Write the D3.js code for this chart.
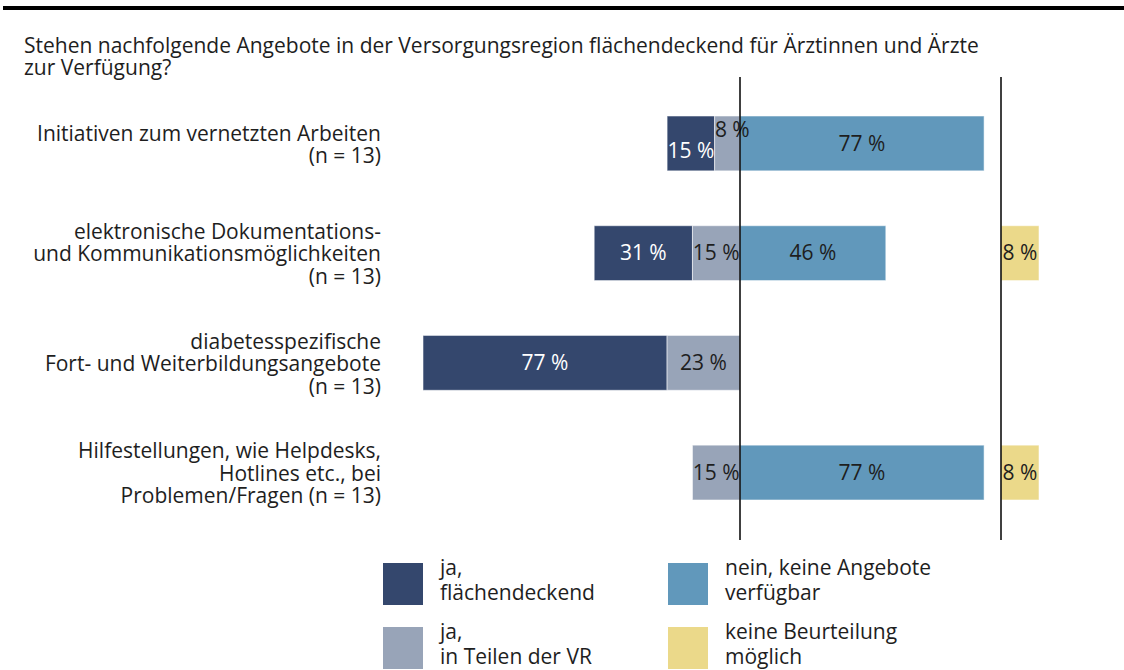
<!DOCTYPE html>
<html><head><meta charset="utf-8">
<script src="https://cdn.jsdelivr.net/npm/d3@7"></script>
<style>
html,body{margin:0;padding:0;background:#fff;}
svg text{font-family:"Open Sans","Noto Sans",sans-serif;fill:#1e1e1e;}
</style></head>
<body>
<svg id="c" width="1124" height="670"></svg>
<script>
const categories = [
  ["Initiativen zum vernetzten Arbeiten", "(n = 13)"],
  ["elektronische Dokumentations-", "und Kommunikationsmöglichkeiten", "(n = 13)"],
  ["diabetesspezifische", "Fort- und Weiterbildungsangebote", "(n = 13)"],
  ["Hilfestellungen, wie Helpdesks,", "Hotlines etc., bei", "Problemen/Fragen (n = 13)"]
];
const jaFlaechendeckend = [15, 31, 77, 0];
const jaTeilweise = [8, 15, 23, 15];
const neinKeine = [77, 46, 0, 77];
const keineBeurteilung = [0, 8, 0, 8];
const legendLabels = [
  ["ja,", "flächendeckend"],
  ["ja,", "in Teilen der VR"],
  ["nein, keine Angebote", "verfügbar"],
  ["keine Beurteilung", "möglich"]
];
const title = ["Stehen nachfolgende Angebote in der Versorgungsregion flächendeckend für Ärztinnen und Ärzte", "zur Verfügung?"];

const colors = {fl: "#34476d", teil: "#98a4b8", nein: "#6198bb", kb: "#ebd98a"};

const svg = d3.select("#c");
const fs = 21;

// top rule
svg.append("rect").attr("x", 3).attr("y", 6).attr("width", 1121).attr("height", 4).attr("fill", "#000");

// title
svg.append("text").attr("font-size", fs)
  .selectAll("tspan").data(title).join("tspan")
  .attr("x", 24).attr("y", (d, i) => 53 + i * 22).text(d => d);

const x = d3.scaleLinear().domain([-100, 100]).range([740 - 317, 740 + 317]);
const kbX0 = 1001;
const kbScale = d3.scaleLinear().domain([0, 100]).range([kbX0, kbX0 + 475]);

const idx = d3.range(categories.length);
const y = d3.scaleBand().domain(idx).range([116, 500]).paddingInner(0.5).paddingOuter(0);
const bw = y.bandwidth();

// build segments
const segs = [];
idx.forEach(i => {
  const f = jaFlaechendeckend[i], t = jaTeilweise[i], n = neinKeine[i], k = keineBeurteilung[i];
  const smallT = t > 0 && t < 10;
  if (f > 0) segs.push({i, x0: x(-(f + t)), x1: x(-t), v: f, c: colors.fl, tc: "#fff", dy: smallT ? 7 : 0});
  if (t > 0) segs.push({i, x0: x(-t), x1: x(0), v: t, c: colors.teil, tc: "#1e1e1e", dy: smallT ? -14 : 0, dx: smallT ? 5 : 0});
  if (n > 0) segs.push({i, x0: x(0), x1: x(n), v: n, c: colors.nein, tc: "#1e1e1e", dy: 0});
  if (k > 0) segs.push({i, x0: kbScale(0), x1: kbScale(k), v: k, c: colors.kb, tc: "#1e1e1e", dy: 0});
});

svg.append("g").selectAll("rect").data(segs).join("rect")
  .attr("x", d => d.x0).attr("y", d => y(d.i))
  .attr("width", d => d.x1 - d.x0).attr("height", bw)
  .attr("fill", d => d.c).attr("stroke", "#fff").attr("stroke-opacity", 0.55).attr("stroke-width", 1);

svg.append("g").selectAll("text").data(segs).join("text")
  .attr("x", d => (d.x0 + d.x1) / 2 + (d.dx || 0))
  .attr("y", d => y(d.i) + bw / 2 + d.dy)
  .attr("dy", "0.35em").attr("text-anchor", "middle").attr("font-size", fs)
  .style("fill", d => d.tc)
  .text(d => d.v + " %");

// vertical reference lines
[x(0), kbX0].forEach(lx => {
  svg.append("line").attr("x1", lx).attr("x2", lx).attr("y1", 77).attr("y2", 540)
    .attr("stroke", "#000").attr("stroke-width", 1.5);
});

// category labels
const lh = 22.5;
const lab = svg.append("g");
idx.forEach(i => {
  const lines = categories[i];
  const cy = y(i) + bw / 2 + 1;
  const t = lab.append("text").attr("text-anchor", "end").attr("font-size", fs);
  lines.forEach((l, j) => {
    t.append("tspan").attr("x", 381)
      .attr("y", cy + (j - (lines.length - 1) / 2) * lh)
      .attr("dy", "0.35em").text(l);
  });
});

// legend
const legPos = [[383, 563], [383, 627], [668, 563], [668, 627]];
const legCols = [colors.fl, colors.teil, colors.nein, colors.kb];
legendLabels.forEach((ll, i) => {
  const [lx, ly] = legPos[i];
  svg.append("rect").attr("x", lx).attr("y", ly).attr("width", 40).attr("height", 42).attr("fill", legCols[i]);
  const t = svg.append("text").attr("font-size", fs);
  ll.forEach((l, j) => {
    t.append("tspan").attr("x", lx + 57).attr("y", ly + 12 + j * 25).text(l);
  });
});
</script>
</body></html>
